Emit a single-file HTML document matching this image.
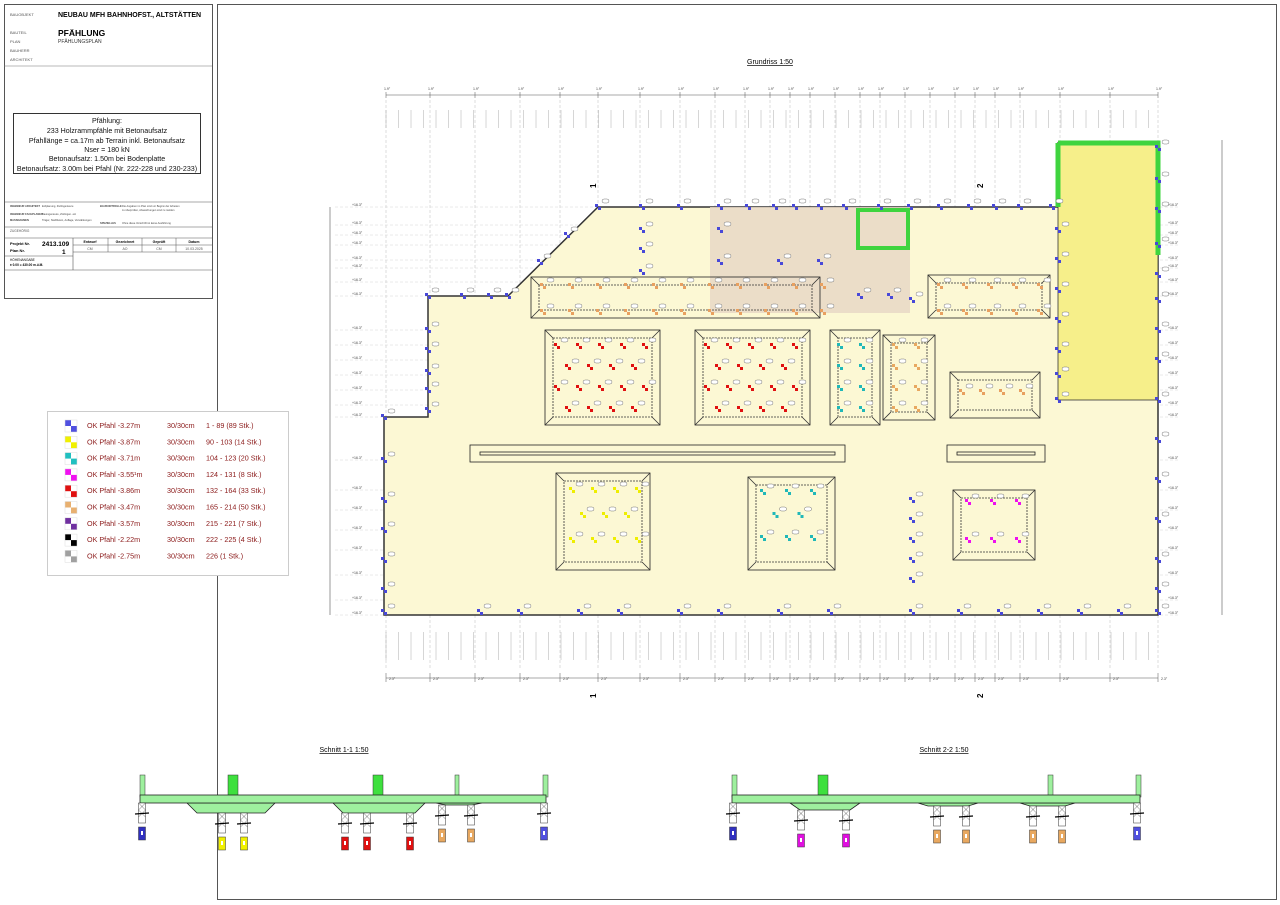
<!DOCTYPE html>
<html><head><meta charset="utf-8">
<style>
html,body{margin:0;padding:0;background:#fff;}
body{width:1280px;height:905px;position:relative;overflow:hidden;font-family:"Liberation Sans",sans-serif;}
svg{position:absolute;left:0;top:0;}
</style></head><body>
<svg id="s" width="1280" height="905" viewBox="0 0 1280 905" xmlns="http://www.w3.org/2000/svg" font-family="Liberation Sans, sans-serif">
<rect x="217.5" y="4.5" width="1059" height="895" fill="none" stroke="#555" stroke-width="1"/>
<rect x="4.5" y="4.5" width="208" height="294" fill="#fff" stroke="#555"/>
<line x1="4" y1="66" x2="212" y2="66" stroke="#777" stroke-width="0.6"/>
<text x="10" y="16" font-size="4" fill="#555">BAUOBJEKT</text>
<text x="58" y="17" font-size="7" font-weight="bold">NEUBAU MFH BAHNHOFST., ALTSTÄTTEN</text>
<text x="10" y="34" font-size="4" fill="#555">BAUTEIL</text>
<text x="58" y="36" font-size="8.5" font-weight="bold">PFÄHLUNG</text>
<text x="10" y="43" font-size="4" fill="#555">PLAN</text>
<text x="58" y="43" font-size="5" fill="#333">PFÄHLUNGSPLAN</text>
<text x="10" y="52" font-size="4" fill="#555">BAUHERR</text>
<text x="10" y="61" font-size="4" fill="#555">ARCHITEKT</text>
<rect x="13.5" y="113.5" width="187" height="60" fill="#fff" stroke="#333"/>
<g font-size="7.1" text-anchor="middle" fill="#111">
<text x="107" y="123">Pfählung:</text>
<text x="107" y="133">233 Holzrammpfähle mit Betonaufsatz</text>
<text x="107" y="143">Pfahllänge = ca.17m ab Terrain inkl. Betonaufsatz</text>
<text x="107" y="152">Nser = 180 kN</text>
<text x="107" y="161">Betonaufsatz: 1.50m bei Bodenplatte</text>
<text x="107" y="171">Betonaufsatz: 3.00m bei Pfahl (Nr. 222-228 und 230-233)</text>
</g>
<line x1="4" y1="202" x2="212" y2="202" stroke="#555" stroke-width="0.6"/>
<g font-size="2.6" fill="#444">
<text x="10" y="207" font-weight="bold">INGENIEUR ARCHITEKT</text><text x="42" y="207">Erdplanung, Zivilingenieure</text>
<text x="10" y="215" font-weight="bold">INGENIEUR FACHPLANER</text><text x="42" y="215">Bauingenieure, Zivilingen. etc</text>
<text x="10" y="221" font-weight="bold">MASSNAHMEN</text><text x="42" y="221">Träger, Stahlbeton, Auflage, Verstärkungen</text>
<text x="100" y="207" font-weight="bold">BAUKONTROLLE</text><text x="122" y="207">Die Angaben im Plan sind vor Beginn der Arbeiten</text>
<text x="122" y="211">zu überprüfen, Abweichungen sind zu melden</text>
<text x="100" y="224" font-weight="bold">SPEZIELLES</text><text x="122" y="224">Ohne diese Vorschrift ist keine Ausführung</text>
</g>
<line x1="4" y1="227" x2="212" y2="227" stroke="#555" stroke-width="0.6"/>
<text x="10" y="232" font-size="3.2" fill="#555">ZUGEHÖRIG</text>
<line x1="4" y1="238" x2="212" y2="238" stroke="#555" stroke-width="0.6"/>
<line x1="73" y1="238" x2="73" y2="270" stroke="#555" stroke-width="0.6"/>
<line x1="4" y1="256" x2="73" y2="256" stroke="#555" stroke-width="0.6"/>
<line x1="4" y1="270" x2="212" y2="270" stroke="#555" stroke-width="0.6"/>
<g stroke="#555" stroke-width="0.5"><line x1="108" y1="238" x2="108" y2="252"/><line x1="142" y1="238" x2="142" y2="252"/><line x1="176" y1="238" x2="176" y2="252"/><line x1="73" y1="245" x2="212" y2="245"/><line x1="73" y1="252" x2="212" y2="252"/></g>
<text x="10" y="245" font-size="4" font-weight="bold">Projekt Nr.</text>
<text x="42" y="246" font-size="6.5" font-weight="bold">2413.109</text>
<text x="10" y="252" font-size="4" font-weight="bold">Plan Nr.</text>
<text x="62" y="254" font-size="6.5" font-weight="bold">1</text>
<text x="10" y="261" font-size="3.2">HÖHENANGABE</text>
<text x="10" y="266" font-size="3.2" font-weight="bold">± 0.00 = 430.00  m.ü.M.</text>
<g font-size="3.5" text-anchor="middle"><text x="90" y="243" font-weight="bold">Entwurf</text><text x="125" y="243" font-weight="bold">Gezeichnet</text><text x="159" y="243" font-weight="bold">Geprüft</text><text x="194" y="243" font-weight="bold">Datum</text>
<text x="90" y="250" fill="#555">CM</text><text x="125" y="250" fill="#555">AO</text><text x="159" y="250" fill="#555">CM</text><text x="194" y="250" fill="#555">10.03.2025</text></g>

<rect x="47.5" y="411.5" width="241" height="164" fill="#fff" stroke="#ccc"/>
<g id="legend" font-size="7.2" fill="#8b1a1a"></g>

<text x="770" y="64" font-size="7" text-anchor="middle" text-decoration="underline">Grundriss  1:50</text>

<g id="grid"></g>
<polygon points="384,417 428,417 428,296 508,296 598,207 1058,207 1058,143 1158,143 1158,615 384,615" fill="#fcf8d4" stroke="#333" stroke-width="1.5"/>
<rect x="710" y="207" width="200" height="106" fill="#e8d8c6" opacity="0.85"/>
<rect x="1058" y="143" width="100" height="257" fill="#f6ef8a" stroke="#333" stroke-width="0.8"/>
<path d="M1058,143 H1158 V255 M1058,143 V207" fill="none" stroke="#3fd43f" stroke-width="5"/>
<rect x="858" y="210" width="50" height="38" fill="none" stroke="#3fd43f" stroke-width="4"/>
<g id="boxes" fill="none" stroke="#333" stroke-width="0.8" stroke-dasharray="2,1"></g>
<g id="pts"></g>
<g id="dims" font-size="3.5" fill="#444"></g>
<g font-size="8" font-weight="bold"><text x="596" y="188" transform="rotate(-90 596 188)">1</text><text x="983" y="188" transform="rotate(-90 983 188)">2</text><text x="596" y="698" transform="rotate(-90 596 698)">1</text><text x="983" y="698" transform="rotate(-90 983 698)">2</text></g>

<text x="344" y="752" font-size="7" text-anchor="middle" text-decoration="underline">Schnitt 1-1  1:50</text>
<text x="944" y="752" font-size="7" text-anchor="middle" text-decoration="underline">Schnitt 2-2  1:50</text>
<g id="sec"></g>
</svg>
<script>
var NS="http://www.w3.org/2000/svg";
function el(p,t,a,txt){var e=document.createElementNS(NS,t);for(var k in a)e.setAttribute(k,a[k]);if(txt!=null)e.textContent=txt;document.getElementById(p).appendChild(e);return e;}
var L=[["#5050e0","OK Pfahl -3.27m","1 - 89 (89 Stk.)"],["#f0f000","OK Pfahl -3.87m","90 - 103 (14 Stk.)"],["#20c0c0","OK Pfahl -3.71m","104 - 123 (20 Stk.)"],["#f010f0","OK Pfahl -3.55\u00b9m","124 - 131 (8 Stk.)"],["#e01010","OK Pfahl -3.86m","132 - 164 (33 Stk.)"],["#e8b070","OK Pfahl -3.47m","165 - 214 (50 Stk.)"],["#7030a0","OK Pfahl -3.57m","215 - 221 (7 Stk.)"],["#000","OK Pfahl -2.22m","222 - 225 (4 Stk.)"],["#a0a0a0","OK Pfahl -2.75m","226 (1 Stk.)"]];
L.forEach(function(r,i){var y=420+i*16.3;
el("legend","rect",{x:65,y:y,width:6,height:6,fill:r[0]});el("legend","rect",{x:71,y:y+6,width:6,height:6,fill:r[0]});
el("legend","rect",{x:65,y:y,width:12,height:12,fill:"none",stroke:"#ddd","stroke-width":0.5});
el("legend","text",{x:87,y:y+8},r[1]);el("legend","text",{x:167,y:y+8},"30/30cm");el("legend","text",{x:206,y:y+8},r[2]);});
var gx=[386,430,475,520,560,598,640,680,715,745,770,790,810,835,860,880,905,930,955,975,995,1020,1060,1110,1158];
gx.forEach(function(x){el("grid","line",{x1:x,y1:100,x2:x,y2:670,stroke:"#bbb","stroke-width":0.5,"stroke-dasharray":"3,2"});
el("dims","text",{x:x-2,y:90},"1.9\u00b0");el("dims","line",{x1:x,y1:92,x2:x,y2:98,stroke:"#555","stroke-width":0.5});
el("dims","line",{x1:x,y1:673,x2:x,y2:682,stroke:"#555","stroke-width":0.5});el("dims","text",{x:x+3,y:680},"2.3\u00b0");});
el("dims","line",{x1:386,y1:95,x2:1158,y2:95,stroke:"#555","stroke-width":0.6});
el("dims","line",{x1:386,y1:678,x2:1158,y2:678,stroke:"#555","stroke-width":0.6});
for(var x=386;x<1158;x+=12.5){el("dims","line",{x1:x,y1:110,x2:x,y2:128,stroke:"#999","stroke-width":0.4});el("dims","line",{x1:x,y1:632,x2:x,y2:660,stroke:"#999","stroke-width":0.4});}
var gy=[207,225,235,245,260,268,282,296,330,345,360,375,390,405,417,460,490,510,530,550,575,600,615];
gy.forEach(function(y){el("grid","line",{x1:335,y1:y,x2:1180,y2:y,stroke:"#ccc","stroke-width":0.4,"stroke-dasharray":"3,2"});
el("dims","text",{x:352,y:y-1},"+16.3\u00b0");el("dims","text",{x:1168,y:y-1},"+16.3\u00b0");});
el("dims","line",{x1:330,y1:207,x2:330,y2:615,stroke:"#555","stroke-width":0.6});
el("dims","line",{x1:1222,y1:140,x2:1222,y2:615,stroke:"#555","stroke-width":0.6});
var B=[[531,277,289,41],[545,330,115,95],[695,330,115,95],[830,330,50,95],[883,335,52,85],[928,275,122,43],[950,372,90,46],[556,473,94,97],[748,477,87,93],[953,490,82,70]];
B.forEach(function(b){el("boxes","rect",{x:b[0],y:b[1],width:b[2],height:b[3],stroke:"#222","stroke-dasharray":"none"});el("boxes","rect",{x:b[0]+8,y:b[1]+8,width:b[2]-16,height:b[3]-16});
el("boxes","path",{d:"M"+b[0]+","+b[1]+"l8,8 M"+(b[0]+b[2])+","+b[1]+"l-8,8 M"+b[0]+","+(b[1]+b[3])+"l8,-8 M"+(b[0]+b[2])+","+(b[1]+b[3])+"l-8,-8","stroke-dasharray":"none"});});
el("boxes","rect",{x:470,y:445,width:375,height:17,stroke:"#222","stroke-dasharray":"none"});el("boxes","rect",{x:480,y:452,width:355,height:3,stroke:"#222","stroke-dasharray":"none"});
el("boxes","rect",{x:947,y:445,width:98,height:17,stroke:"#222","stroke-dasharray":"none"});el("boxes","rect",{x:957,y:452,width:78,height:3,stroke:"#222","stroke-dasharray":"none"});
function pile(x,y,c){el("pts","rect",{x:x-3,y:y-3,width:3,height:3,fill:c});el("pts","rect",{x:x,y:y,width:3,height:3,fill:c});el("pts","rect",{x:x+4,y:y-8,width:7,height:4,rx:2,fill:"#fff",stroke:"#555","stroke-width":0.4});}
var blue="#4848d8";
[[428,296],[428,330],[428,350],[428,372],[428,390],[428,410],[384,417],[384,460],[384,500],[384,530],[384,560],[384,590],[384,612],[463,296],[490,296],[508,296],[540,262],[567,235],[598,207],[642,207],[680,207],[720,207],[748,207],[775,207],[795,207],[820,207],[845,207],[880,207],[910,207],[940,207],[970,207],[995,207],[1020,207],[1052,207],[642,230],[642,250],[642,272],[720,230],[720,262],[780,262],[820,262],[1158,148],[1158,180],[1158,210],[1158,245],[1158,275],[1158,300],[1158,330],[1158,360],[1158,400],[1158,440],[1158,480],[1158,520],[1158,560],[1158,590],[1158,612],[1058,230],[1058,260],[1058,290],[1058,320],[1058,350],[1058,375],[480,612],[520,612],[580,612],[620,612],[680,612],[720,612],[780,612],[830,612],[912,612],[960,612],[1000,612],[1040,612],[1080,612],[1120,612],[912,300],[912,500],[912,520],[912,540],[912,560],[912,580],[890,296],[860,296],[1058,400]].forEach(function(p){pile(p[0],p[1],blue);});
function grid(x0,y0,nx,ny,dx,dy,c,off){for(var j=0;j<ny;j++)for(var i=0;i<nx;i++){if(off&&j%2==1&&i==nx-1)continue;pile(x0+i*dx+(off&&j%2?dx/2:0),y0+j*dy,c);}}
grid(557,346,5,4,22,21,"#e01010",true);grid(707,346,5,4,22,21,"#e01010",true);grid(840,346,2,4,22,21,"#20b8b8",false);grid(895,346,2,4,22,21,"#e8a860",false);
grid(543,286,11,2,28,26,"#e8a060",false);grid(940,286,5,2,25,26,"#e8a060",false);grid(962,392,4,1,20,20,"#e8a060",false);
grid(572,490,4,3,22,25,"#eeee00",true);grid(763,492,3,3,25,23,"#20b8b8",true);grid(968,502,3,2,25,38,"#ee10ee",false);
function sec(x0,x1,walls,piles,drops){var s="sec";
walls.forEach(function(w){el(s,"rect",{x:w[0],y:775,width:w[1],height:22,fill:w[1]>6?"#3ee03e":"#9ef09e",stroke:"#333","stroke-width":0.5});});
drops.forEach(function(d){el(s,"polygon",{points:d[0]+",803 "+(d[0]+10)+","+d[2]+" "+(d[1]-10)+","+d[2]+" "+d[1]+",803",fill:"#9ef09e",stroke:"#222","stroke-width":0.8});});
el(s,"rect",{x:x0,y:795,width:x1-x0,height:8,fill:"#9ef09e",stroke:"#222","stroke-width":0.8});
piles.forEach(function(p){var x=p[0];el(s,"rect",{x:x-3.5,y:p[2],width:7,height:20,fill:"#fff",stroke:"#333","stroke-width":0.5});
el(s,"path",{d:"M"+(x-3.5)+","+p[2]+"l7,7 m0,-7 l-7,7 m0,0 l7,7 m0,-7 l-7,7",stroke:"#333","stroke-width":0.4,fill:"none"});
el(s,"line",{x1:x-7,y1:p[2]+11,x2:x+7,y2:p[2]+10,stroke:"#000","stroke-width":1.3});
el(s,"rect",{x:x-3.5,y:p[2]+24,width:7,height:13,fill:p[1],stroke:"#333","stroke-width":0.5});el(s,"rect",{x:x-1,y:p[2]+28,width:2,height:4,fill:"#fff"});});}
sec(140,546,[[140,5],[228,10],[373,10],[455,4],[543,5]],[[142,"#3030c0",803],[222,"#f0f000",813],[244,"#f0f000",813],[345,"#e01010",813],[367,"#e01010",813],[410,"#e01010",813],[442,"#e8a860",805],[471,"#e8a860",805],[544,"#5050e0",803]],[[187,275,813],[333,425,813],[436,482,805]]);
sec(732,1140,[[732,5],[818,10],[1048,5],[1136,5]],[[733,"#3030c0",803],[801,"#e010e0",810],[846,"#e010e0",810],[937,"#e8a860",806],[966,"#e8a860",806],[1033,"#e8a860",806],[1062,"#e8a860",806],[1137,"#5050e0",803]],[[790,860,810],[918,978,806],[1020,1075,806]]);
</script>
</body></html>
